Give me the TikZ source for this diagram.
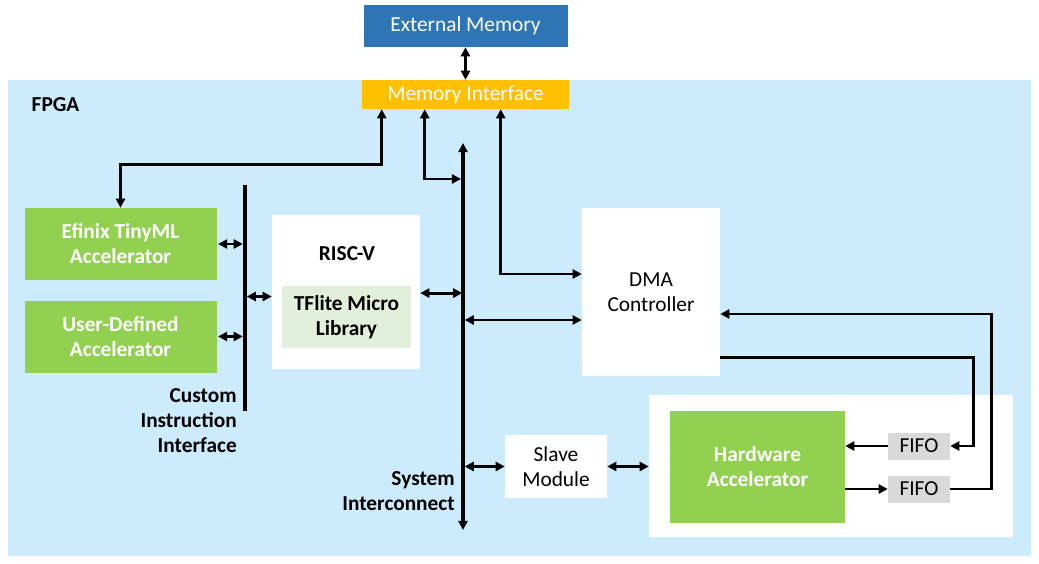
\documentclass[tikz,border=0pt]{standalone}
\usepackage{fontspec}
\setmainfont{Carlito}
\usepackage{tikz}
\usetikzlibrary{arrows.meta, positioning, calc}
\definecolor{FPGABlue}{HTML}{CCEBFD}
\definecolor{ExtBlue}{HTML}{2E75B6}
\definecolor{IfOrange}{HTML}{FFC000}
\definecolor{AccGreen}{HTML}{92D050}
\definecolor{LibGreen}{HTML}{E2EFDA}
\definecolor{FIFOGray}{HTML}{D9D9D9}

\begin{document}
\begin{tikzpicture}[
  x=0.75pt, y=-0.75pt,
  font=\fontsize{16}{18.75}\selectfont,
  box/.style={rectangle, inner sep=0pt, align=center},
  whitebox/.style={box, fill=white},
  accel/.style={box, fill=AccGreen, text=white, font=\fontsize{16}{18.75}\selectfont\bfseries},
  fifobox/.style={box, fill=FIFOGray, minimum width=46.5pt, minimum height=20.25pt},
  tip/.tip={Triangle[length=6.8pt, width=6.8pt]},
  link/.style={line width=2.2pt, -tip},
  dlink/.style={line width=2.2pt, tip-tip},
  bus/.style={line width=3pt}
]
\useasboundingbox (0,0) rectangle (1039,564);
\fill[FPGABlue] (8,80) rectangle (1031,556);
\node[anchor=west, font=\fontsize{16}{18.75}\selectfont\bfseries] (fpga) at (27,105) {FPGA};

% memory side
\node[box, fill=ExtBlue, text=white, minimum width=153pt, minimum height=31.5pt] (extmem) at (465.5,26) {External Memory};
\node[box, fill=IfOrange, text=white, minimum width=155.25pt, minimum height=21.75pt] (memif) at (465.5,94.5) {Memory Interface};

% accelerators and cpu
\node[accel, minimum width=144pt, minimum height=54pt] (tinyml) at (120.5,244) {Efinix TinyML\\Accelerator};
\node[accel, minimum width=144pt, minimum height=54pt] (userdef) at (120.5,336.5) {User-Defined\\Accelerator};
\node[whitebox, minimum width=111pt, minimum height=115.5pt] (riscv) at (346,292) {};
\node[font=\fontsize{16}{18.75}\selectfont\bfseries] (riscvlbl) at (347,254) {RISC-V};
\node[box, fill=LibGreen, minimum width=96.75pt, minimum height=46.5pt, font=\fontsize{16}{18.75}\selectfont\bfseries] (tflite) at (346.5,317) {TFlite Micro\\Library};

\node[whitebox, minimum width=103.5pt, minimum height=126pt] (dma) at (651,292) {DMA\\Controller};
\node[whitebox, minimum width=76.5pt, minimum height=47.25pt] (slave) at (556,466.5) {Slave\\Module};

% hardware accelerator block
\node[whitebox, minimum width=273pt, minimum height=106pt] (hwbox) at (831,466) {};
\node[accel, minimum width=131.25pt, minimum height=84pt] (hwacc) at (757.5,466.5) {Hardware\\Accelerator};
\node[fifobox] (fifoin) at (919,446) {FIFO};
\node[fifobox] (fifoout) at (919,489) {FIFO};

% bus labels
\node[anchor=east, align=right, inner sep=0pt, font=\fontsize{16}{18.75}\selectfont\bfseries] (cilbl) at (237,421) {Custom\\Instruction\\Interface};
\node[anchor=east, align=right, inner sep=0pt, font=\fontsize{16}{18.75}\selectfont\bfseries] (syslbl) at (455,491) {System\\Interconnect};

% buses
\coordinate (cibus) at (245,185);
\coordinate (systop) at (463,143);
\coordinate (sysbot) at (463,530);
\draw[bus] (cibus) -- ++(0,226);
\draw[dlink, line width=3pt] (systop) -- (sysbot);

% connections
\draw[dlink] (extmem) -- (memif);
\draw[dlink] (tinyml.north) -- ++(0,-43) -| ([xshift=15pt]memif.south west);
\draw[dlink] ([xshift=47.25pt]memif.south west) |- ($(systop)+(-2,36)$);
\draw[dlink] ([xshift=104.25pt]memif.south west) |- ([yshift=13.5pt]dma.west);
\draw[dlink, shorten <=1pt] (tinyml.east) -- ++(26,0);
\draw[dlink, shorten <=1pt] (userdef.east) -- ++(26,0);
\draw[dlink] ([yshift=-3.4pt]riscv.west) -- ++(-25,0);
\draw[dlink] ([yshift=-0.8pt]riscv.east) -- ++(42,0);
\draw[dlink] ([yshift=-21pt]dma.west) -- ++(-117,0);
\draw[dlink] (slave.west) -- ++(-40,0);
\draw[dlink] (slave.east) -- (slave.east -| hwbox.west);
\draw[link] (fifoin.west) -- (fifoin.west -| hwacc.east);
\draw[link] (fifoout.west -| hwacc.east) -- (fifoout.west);
\draw[link] ([yshift=-49pt]dma.east) -- ++(253,0) |- (fifoin.east);
\draw[link] (fifoout.east) -- ++(41,0) |- ([yshift=-16.5pt]dma.east);
\end{tikzpicture}
\end{document}
